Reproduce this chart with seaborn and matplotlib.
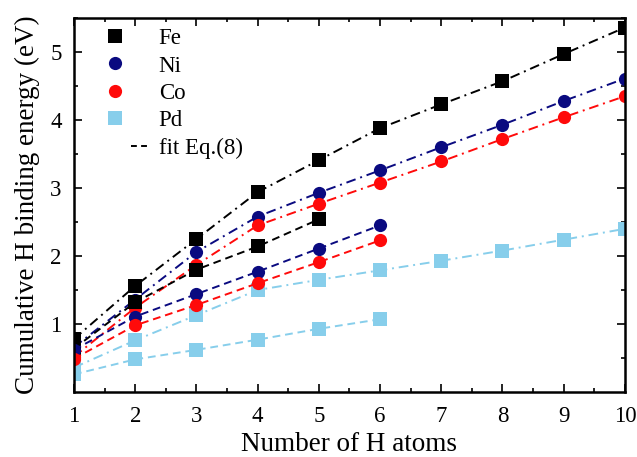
import matplotlib
matplotlib.use("Agg")
import matplotlib.pyplot as plt
from matplotlib.lines import Line2D
from matplotlib.legend_handler import HandlerLine2D
import numpy as np
import seaborn as sns
import pandas as pd

# Data
n_full = [1, 2, 3, 4, 5, 6, 7, 8, 9, 10]
fe_dd = [0.78, 1.56, 2.25, 2.94, 3.41, 3.88, 4.23, 4.57, 4.97, 5.36]
ni_dd = [0.66, 1.36, 2.06, 2.58, 2.93, 3.26, 3.60, 3.93, 4.28, 4.61]
co_dd = [0.52, 1.24, 1.87, 2.45, 2.77, 3.08, 3.39, 3.72, 4.04, 4.35]
pd_dd = [0.36, 0.76, 1.13, 1.50, 1.65, 1.79, 1.93, 2.08, 2.24, 2.40]

n_fe_short = [1, 2, 3, 4, 5]
fe_dash = [0.64, 1.32, 1.80, 2.14, 2.54]
n_short = [1, 2, 3, 4, 5, 6]
ni_dash = [0.62, 1.11, 1.44, 1.77, 2.11, 2.45]
co_dash = [0.49, 0.98, 1.28, 1.60, 1.91, 2.23]
pd_dash = [0.26, 0.48, 0.62, 0.77, 0.93, 1.07]

metals = ["Fe", "Ni", "Co", "Pd"]
colors = {"Fe": "#000000", "Ni": "#0a0a80", "Co": "#ff0a0a", "Pd": "#87ceeb"}
markers = {"Fe": "s", "Ni": "o", "Co": "o", "Pd": "s"}
x_ticks = [1, 2, 3, 4, 5, 6, 7, 8, 9, 10]
y_ticks = [1, 2, 3, 4, 5]
legend_labels = ["Fe", "Ni", "Co", "Pd", "fit Eq.(8)"]

sns.set_theme(style="ticks")
plt.rcParams["font.family"] = ["Liberation Serif", "DejaVu Serif"]
plt.rcParams["text.color"] = "black"
plt.rcParams["axes.labelcolor"] = "black"
plt.rcParams["xtick.color"] = "black"
plt.rcParams["ytick.color"] = "black"

fig = plt.figure(figsize=(6.37, 4.57), dpi=100)
ax = fig.add_axes([0.1162, 0.1422, 0.8648, 0.8184])

dashdot = (0, (5, 2.5, 1, 2.5))
dashed = (0, (4, 2.5))

series = [
    ("Fe", n_full, fe_dd, dashdot),
    ("Ni", n_full, ni_dd, dashdot),
    ("Co", n_full, co_dd, dashdot),
    ("Pd", n_full, pd_dd, dashdot),
    ("Fe", n_fe_short, fe_dash, dashed),
    ("Ni", n_short, ni_dash, dashed),
    ("Co", n_short, co_dash, dashed),
    ("Pd", n_short, pd_dash, dashed),
]

msize = {"s": 10, "o": 9.5}
for metal, xs, ys, ls in series:
    df = pd.DataFrame({"n": xs, "E": ys})
    sns.lineplot(data=df, x="n", y="E", ax=ax, color=colors[metal],
                 linewidth=1.4, marker=markers[metal],
                 markersize=msize[markers[metal]], markeredgewidth=0, legend=False)
    ax.lines[-1].set_linestyle(ls)

ax.set_xlim(1, 10)
ax.set_ylim(0, 5.5)
ax.set_xticks(x_ticks)
ax.set_yticks(y_ticks)
ax.set_xticks([1.5 + i for i in range(9)], minor=True)
ax.set_yticks([0.5, 1.5, 2.5, 3.5, 4.5, 5.5], minor=True)
ax.tick_params(which="both", direction="in", top=True, right=True,
               labelsize=16.5, colors="black", width=1.2)
ax.tick_params(which="major", length=6)
ax.tick_params(axis="x", which="major", pad=10)
ax.tick_params(axis="y", which="major", pad=9)
ax.tick_params(which="minor", length=3)
for s in ax.spines.values():
    s.set_linewidth(1.8)
    s.set_color("black")

ax.set_xlabel("Number of H atoms", fontsize=19.5, labelpad=4, color="black")
ax.set_ylabel("Cumulative H binding energy (eV)", fontsize=19.5, labelpad=7, color="black")


class RightDash(HandlerLine2D):
    def get_xdata(self, legend, xdescent, ydescent, width, height, fontsize):
        x = np.array([width * 0.85, width * 1.2]) - xdescent
        return x, x


handles = [Line2D([], [], linestyle="none", marker=markers[m], color=colors[m],
                  markersize=msize[markers[m]], markeredgewidth=0) for m in metals]
fit_handle = Line2D([], [], linestyle=(0, (3.0, 2.2)), color="black", linewidth=1.4)
handles.append(fit_handle)
leg = ax.legend(handles, legend_labels, loc="upper left", frameon=False, fontsize=16.5,
                handlelength=2.0, handletextpad=0.9, labelspacing=0.28,
                borderaxespad=0.2, bbox_to_anchor=(0.008, 1.01),
                handler_map={fit_handle: RightDash()}, labelcolor="black")

fig.savefig("out.png", dpi=100)
